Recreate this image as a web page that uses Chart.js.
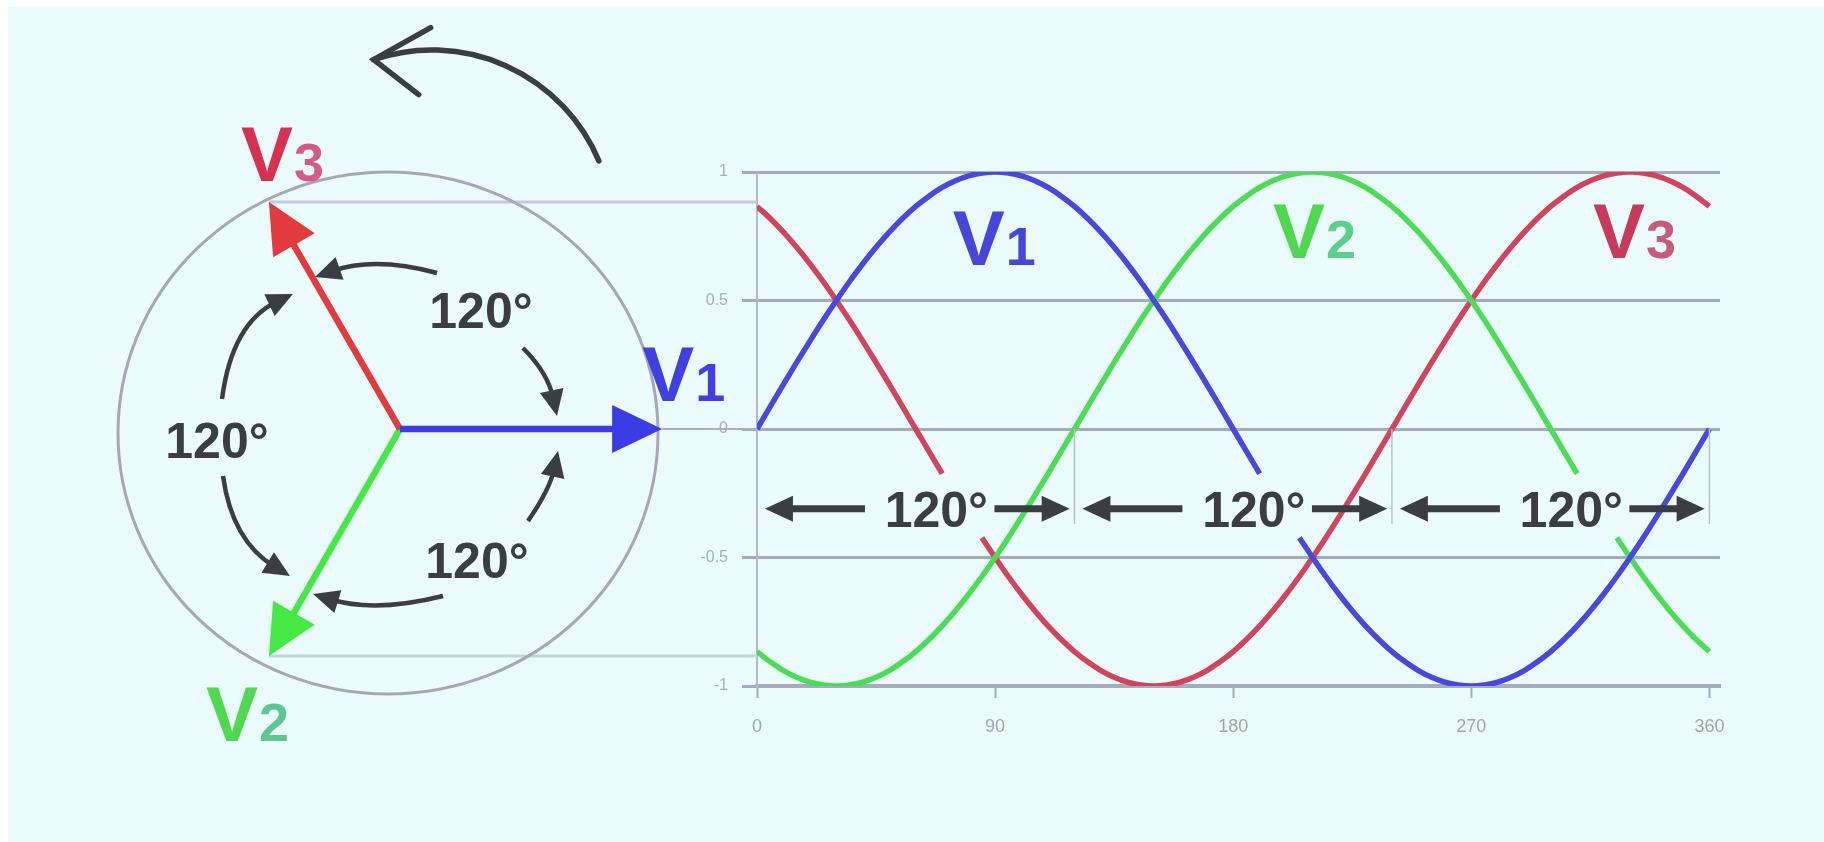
<!DOCTYPE html>
<html>
<head>
<meta charset="utf-8">
<script src="https://cdn.jsdelivr.net/npm/chart.js@4.4.1/dist/chart.umd.min.js"></script>
<style>
  html, body { margin: 0; padding: 0; background: #fff; }
  #wrap { width: 1824px; height: 842px; position: relative; }
</style>
</head>
<body>
<div id="wrap"><canvas id="waveChart"></canvas></div>
<script>
// phase angle (degrees), one point every 5 deg
const angles = [0,5,10,15,20,25,30,35,40,45,50,55,60,65,70,75,80,85,90,
  95,100,105,110,115,120,125,130,135,140,145,150,155,160,165,170,175,180,
  185,190,195,200,205,210,215,220,225,230,235,240,245,250,255,260,265,270,
  275,280,285,290,295,300,305,310,315,320,325,330,335,340,345,350,355,360];

// null where the curve is interrupted by the 120° labels
const v1 = [0,0.087,0.174,0.259,0.342,0.423,0.5,0.574,0.643,0.707,0.766,0.819,0.866,0.906,0.94,0.966,0.985,0.996,1,
  0.996,0.985,0.966,0.94,0.906,0.866,0.819,0.766,0.707,0.643,0.574,0.5,0.423,0.342,0.259,0.174,0.087,0,
  -0.087,-0.174,null,null,-0.423,-0.5,-0.574,-0.643,-0.707,-0.766,-0.819,-0.866,-0.906,-0.94,-0.966,-0.985,-0.996,-1,
  -0.996,-0.985,-0.966,-0.94,-0.906,-0.866,-0.819,-0.766,-0.707,-0.643,-0.574,-0.5,-0.423,-0.342,-0.259,-0.174,-0.087,0];
const v2 = [-0.866,-0.906,-0.94,-0.966,-0.985,-0.996,-1,-0.996,-0.985,-0.966,-0.94,-0.906,-0.866,-0.819,-0.766,-0.707,-0.643,-0.574,-0.5,
  -0.423,-0.342,-0.259,-0.174,-0.087,0,0.087,0.174,0.259,0.342,0.423,0.5,0.574,0.643,0.707,0.766,0.819,0.866,
  0.906,0.94,0.966,0.985,0.996,1,0.996,0.985,0.966,0.94,0.906,0.866,0.819,0.766,0.707,0.643,0.574,0.5,
  0.423,0.342,0.259,0.174,0.087,0,-0.087,-0.174,null,null,-0.423,-0.5,-0.574,-0.643,-0.707,-0.766,-0.819,-0.866];
const v3 = [0.866,0.819,0.766,0.707,0.643,0.574,0.5,0.423,0.342,0.259,0.174,0.087,0,-0.087,-0.174,null,null,-0.423,-0.5,
  -0.574,-0.643,-0.707,-0.766,-0.819,-0.866,-0.906,-0.94,-0.966,-0.985,-0.996,-1,-0.996,-0.985,-0.966,-0.94,-0.906,-0.866,
  -0.819,-0.766,-0.707,-0.643,-0.574,-0.5,-0.423,-0.342,-0.259,-0.174,-0.087,0,0.087,0.174,0.259,0.342,0.423,0.5,
  0.574,0.643,0.707,0.766,0.819,0.866,0.906,0.94,0.966,0.985,0.996,1,0.996,0.985,0.966,0.94,0.906,0.866];

const xTicks = [0, 90, 180, 270, 360];
const yTicks = [-1, -0.5, 0, 0.5, 1];
const segments = [0, 120, 240, 360];      // 120° spacing marks
const phasorAngles = [0, -120, 120];      // V1, V2, V3 at t = 0

const FONT = '"Liberation Sans", Arial, sans-serif';
const INK = '#3a3d42';
const BG = '#ebfbfb';
const GRID = '#a4abbd';

const toXY = vals => angles.map((a, i) => ({ x: a, y: vals[i] }));

function line(ctx, x1, y1, x2, y2) {
  ctx.beginPath(); ctx.moveTo(x1, y1); ctx.lineTo(x2, y2); ctx.stroke();
}

function head(ctx, tx, ty, dx, dy, len, wid, color) {
  const m = Math.hypot(dx, dy), ux = dx / m, uy = dy / m;
  const bx = tx - ux * len, by = ty - uy * len;
  ctx.beginPath();
  ctx.moveTo(tx, ty);
  ctx.lineTo(bx - uy * wid / 2, by + ux * wid / 2);
  ctx.lineTo(bx + uy * wid / 2, by - ux * wid / 2);
  ctx.closePath();
  ctx.fillStyle = color;
  ctx.fill();
}

function vLabel(ctx, x, y, sub, cV, cSub) {
  ctx.textAlign = 'left';
  ctx.textBaseline = 'alphabetic';
  ctx.font = 'bold 78px ' + FONT;
  ctx.fillStyle = cV;
  ctx.fillText('V', x, y);
  const w = ctx.measureText('V').width;
  ctx.font = 'bold 54px ' + FONT;
  ctx.fillStyle = cSub;
  ctx.fillText(sub, x + w + 1, y);
}

const bgPlugin = {
  id: 'bg',
  beforeDraw(chart) {
    const { ctx, width, height } = chart;
    ctx.save();
    ctx.fillStyle = '#ffffff';
    ctx.fillRect(0, 0, width, height);
    ctx.fillStyle = BG;
    ctx.fillRect(8, 6, width - 8, height - 6);
    ctx.restore();
  }
};

// 120° spacing arrows under the zero line + curve names
const waveNotes = {
  id: 'waveNotes',
  afterDatasetsDraw(chart) {
    const { ctx } = chart;
    const xs = chart.scales.x, ys = chart.scales.y;
    const y0 = ys.getPixelForValue(0);
    const rowY = ys.getPixelForValue(-0.31);
    ctx.save();
    ctx.strokeStyle = '#bcc1cf';
    ctx.lineWidth = 1.5;
    segments.slice(1).forEach(v => {
      const px = xs.getPixelForValue(v);
      line(ctx, px, y0, px, ys.getPixelForValue(-0.37));
    });
    ctx.strokeStyle = INK;
    ctx.lineWidth = 7;
    for (let i = 0; i < segments.length - 1; i++) {
      const a = xs.getPixelForValue(segments[i]);
      const w = xs.getPixelForValue(segments[i + 1]) - a;
      const l1 = a + 0.025 * w, l2 = a + 0.34 * w;
      line(ctx, l1 + 20, rowY, l2, rowY);
      head(ctx, l1, rowY, -1, 0, 28, 26, INK);
      const r1 = a + 0.748 * w, r2 = a + 0.985 * w;
      line(ctx, r1, rowY, r2 - 20, rowY);
      head(ctx, r2, rowY, 1, 0, 28, 26, INK);
      ctx.font = 'bold 50px ' + FONT;
      ctx.fillStyle = INK;
      ctx.textAlign = 'center';
      ctx.textBaseline = 'alphabetic';
      ctx.fillText('120°', a + 0.565 * w, rowY + 18);
    }
    const names = [
      { sub: '1', x: 74, y: 0.64, c: '#4646d8', cs: '#4646d8' },
      { sub: '2', x: 195, y: 0.665, c: '#4fd84f', cs: '#5ccf8c' },
      { sub: '3', x: 316, y: 0.665, c: '#c83a58', cs: '#c85a7a' }
    ];
    names.forEach(n => vLabel(ctx, xs.getPixelForValue(n.x), ys.getPixelForValue(n.y), n.sub, n.c, n.cs));
    ctx.restore();
  }
};

// phasor diagram on the left, tied to the chart's y scale
const phasorPlugin = {
  id: 'phasor',
  afterDraw(chart) {
    const { ctx, chartArea } = chart;
    const ys = chart.scales.y;
    const oy = ys.getPixelForValue(0);
    const unit = oy - ys.getPixelForValue(1);
    const ox = 400;
    const R = 1.02 * unit;
    const tips = phasorAngles.map(d => {
      const r = d * Math.PI / 180;
      return { x: ox + R * Math.cos(r), y: oy - R * Math.sin(r), a: r };
    });
    ctx.save();

    // projection lines to the wave chart
    ctx.lineWidth = 3;
    ctx.strokeStyle = '#c6c8de';
    line(ctx, tips[2].x, tips[2].y, chartArea.left, tips[2].y);
    ctx.strokeStyle = '#bed8da';
    line(ctx, tips[1].x, tips[1].y, chartArea.left, tips[1].y);
    ctx.lineWidth = 2;
    ctx.strokeStyle = '#a9afbf';
    line(ctx, tips[0].x, oy, chartArea.left, oy);

    // outer circle
    ctx.strokeStyle = '#a3a8b4';
    ctx.lineWidth = 3;
    ctx.beginPath();
    ctx.ellipse(ox - 12, oy + 4, 270, 261, 0, 0, Math.PI * 2);
    ctx.stroke();

    // rotation arrow at the top
    ctx.strokeStyle = INK;
    ctx.lineWidth = 5.5;
    ctx.lineCap = 'round';
    const cx = ox + 32, cy = oy - 198, rr = 181;
    ctx.beginPath();
    ctx.arc(cx, cy, rr, -22.8 * Math.PI / 180, -108.8 * Math.PI / 180, true);
    ctx.stroke();
    const tx = cx + rr * Math.cos(-108.8 * Math.PI / 180);
    const ty = cy + rr * Math.sin(-108.8 * Math.PI / 180);
    ctx.beginPath();
    ctx.moveTo(tx + 57, ty - 32);
    ctx.lineTo(tx, ty);
    ctx.lineTo(tx + 45, ty + 35);
    ctx.stroke();

    // small 120° arcs: start, control, end (relative to origin)
    const arcs = [
      [[37, -156], [-25, -173], [-85, -152]],
      [[-178, -30], [-168, -106], [-107, -135]],
      [[-177, 47], [-168, 112], [-110, 147]],
      [[43, 167], [-25, 184], [-87, 165]],
      [[123, -81], [148, -56], [157, -13]],
      [[128, 92], [150, 60], [158, 22]]
    ];
    ctx.lineWidth = 4.5;
    ctx.lineCap = 'butt';
    arcs.forEach(([s, c, e]) => {
      const dx = e[0] - c[0], dy = e[1] - c[1], m = Math.hypot(dx, dy);
      const ex = ox + e[0] - dx / m * 18, ey = oy + e[1] - dy / m * 18;
      ctx.beginPath();
      ctx.moveTo(ox + s[0], oy + s[1]);
      ctx.quadraticCurveTo(ox + c[0], oy + c[1], ex, ey);
      ctx.stroke();
      head(ctx, ox + e[0], oy + e[1], dx, dy, 26, 24, INK);
    });

    // phasor arrows
    const cols = ['#3c3ce6', '#46e846', '#e23a3e'];
    [1, 2, 0].forEach(i => {
      const t = tips[i];
      const ux = Math.cos(t.a), uy = -Math.sin(t.a);
      ctx.strokeStyle = cols[i];
      ctx.lineWidth = 6.5;
      line(ctx, ox, oy, t.x - ux * 40, t.y - uy * 40);
      head(ctx, t.x, t.y, ux, uy, 50, 48, cols[i]);
    });

    // angle labels
    ctx.font = 'bold 50px ' + FONT;
    ctx.fillStyle = INK;
    ctx.textAlign = 'center';
    ctx.textBaseline = 'alphabetic';
    ctx.fillText('120°', ox + 81, oy - 101);
    ctx.fillText('120°', ox + 77, oy + 149);
    ctx.fillText('120°', ox - 183, oy + 29);

    // phasor names
    vLabel(ctx, tips[2].x - 28, tips[2].y - 21, '3', '#d83050', '#d65a88');
    vLabel(ctx, tips[1].x - 63, tips[1].y + 85, '2', '#50d850', '#5cc890');
    vLabel(ctx, tips[0].x - 20, oy - 28, '1', '#4040e0', '#4040e0');
    ctx.restore();
  }
};

new Chart(document.getElementById('waveChart'), {
  type: 'line',
  data: {
    datasets: [
      { label: 'V1', data: toXY(v1), borderColor: '#4848dc', borderWidth: 5.5 },
      { label: 'V2', data: toXY(v2), borderColor: '#4cdc56', borderWidth: 5.5 },
      { label: 'V3', data: toXY(v3), borderColor: '#d2445c', borderWidth: 5.5 }
    ]
  },
  options: {
    responsive: true,
    maintainAspectRatio: false,
    animation: false,
    events: [],
    elements: { point: { radius: 0 }, line: { cubicInterpolationMode: 'monotone' } },
    layout: { padding: { left: 687, top: 172, right: 104, bottom: 96 } },
    plugins: { legend: { display: false }, tooltip: { enabled: false } },
    scales: {
      x: {
        type: 'linear',
        min: 0,
        max: 364,
        afterBuildTicks: s => { s.ticks = xTicks.map(v => ({ value: v })); },
        afterFit: s => { s.height = 60; },
        ticks: { color: '#9ea4ba', font: { family: FONT, size: 18 }, padding: 18, maxRotation: 0,
          callback: v => String(v) },
        grid: { display: true, drawOnChartArea: false, drawTicks: true, tickLength: 12, tickColor: GRID, tickWidth: 2 },
        border: { display: true, color: GRID, width: 4 }
      },
      y: {
        min: -1,
        max: 1,
        afterBuildTicks: s => { s.ticks = yTicks.map(v => ({ value: v })); },
        afterFit: s => { s.width = 70; },
        ticks: { color: '#a6acc0', font: { family: FONT, size: 16 }, padding: 14,
          callback: v => String(v) },
        grid: { color: GRID, lineWidth: 3, tickLength: 15, tickColor: GRID, tickWidth: 3 },
        border: { display: true, color: '#b0b6d4', width: 2 }
      }
    }
  },
  plugins: [bgPlugin, waveNotes, phasorPlugin]
});
</script>
</body>
</html>
